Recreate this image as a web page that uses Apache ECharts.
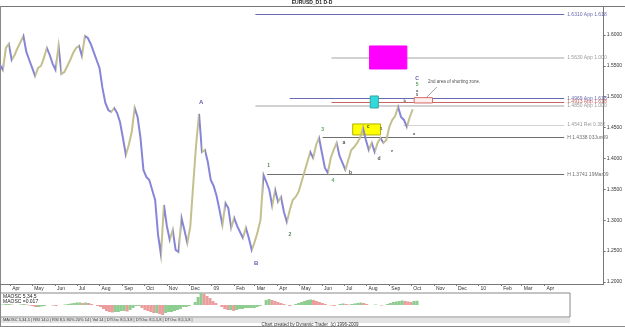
<!DOCTYPE html>
<html>
<head>
<meta charset="utf-8">
<script src="https://cdn.jsdelivr.net/npm/echarts@6/dist/echarts.min.js"></script>
<style>
  html, body { margin: 0; padding: 0; background: #fff; }
  #chart { width: 625px; height: 327px; }
</style>
</head>
<body>
<div id="chart"></div>
<script>
// sampled every 4 days from 18 Mar 2008
const startDate = [2008, 2, 18];
const stepDays = 4;
const closes = [
  1.5514, 1.5433, 1.5789, 1.5854, 1.5595, 1.5676, 1.5789, 1.5887, 1.5984, 1.5725,
  1.5595, 1.5466, 1.5336, 1.5466, 1.5498, 1.5628, 1.5789, 1.5676, 1.5530, 1.5433,
  1.5822, 1.5368, 1.5401, 1.5498, 1.5595, 1.5709, 1.5789, 1.5822, 1.5660, 1.5984,
  1.5951, 1.5854, 1.5725, 1.5595, 1.5466, 1.5142, 1.4899, 1.4785, 1.4753, 1.4818,
  1.4737, 1.4591, 1.4332, 1.4057, 1.4219, 1.4429, 1.4818, 1.4672, 1.4332, 1.3814,
  1.3700, 1.3652, 1.3490, 1.3328, 1.2761, 1.2437, 1.3247, 1.2907, 1.2680, 1.2842,
  1.2518, 1.2486, 1.3037, 1.2842, 1.2632, 1.2891, 1.3571, 1.4219, 1.4721, 1.4105,
  1.4138, 1.3943, 1.3652, 1.3555, 1.3393, 1.3166, 1.2923, 1.3279, 1.3198, 1.2875,
  1.3037, 1.2907, 1.2810, 1.2713, 1.2875, 1.2713, 1.2518, 1.2648, 1.2810, 1.3004,
  1.3733, 1.3619, 1.3490, 1.3231, 1.3490, 1.3296, 1.3377, 1.3134, 1.2972, 1.3166,
  1.3328, 1.3377, 1.3458, 1.3619, 1.3781, 1.3943, 1.4105, 1.4008, 1.4219, 1.4332,
  1.4089, 1.3846, 1.3765, 1.4008, 1.4138, 1.4251, 1.4041, 1.3927, 1.3814, 1.3976,
  1.4138, 1.4186, 1.4251, 1.4332, 1.4494, 1.4300, 1.4138, 1.4251, 1.4105, 1.4251,
  1.4332, 1.4251, 1.4300, 1.4510, 1.4624, 1.4688, 1.4834, 1.4672, 1.4624, 1.4510,
  1.4672, 1.4794
];
const maosc = [
  0, 0.002, 0.004, 0.004, 0.002, 0, 0, 0.002, 0.004, 0.002,
  -0.002, -0.004, -0.008, -0.008, -0.006, -0.004, 0, 0, -0.002, -0.004,
  0, 0, 0.002, 0.004, 0.006, 0.008, 0.010, 0.010, 0.008, 0.010,
  0.008, 0.004, 0, -0.004, -0.008, -0.016, -0.024, -0.028, -0.030, -0.028,
  -0.028, -0.024, -0.024, -0.026, -0.020, -0.012, -0.004, -0.004, -0.012, -0.020,
  -0.024, -0.028, -0.032, -0.032, -0.036, -0.040, -0.032, -0.028, -0.028, -0.024,
  -0.020, -0.016, -0.008, -0.008, -0.004, 0, 0.012, 0.032, 0.048, 0.044,
  0.036, 0.028, 0.016, 0.008, 0, -0.008, -0.016, -0.020, -0.020, -0.024,
  -0.020, -0.016, -0.016, -0.012, -0.012, -0.012, -0.012, -0.008, -0.004, 0,
  0.020, 0.024, 0.020, 0.016, 0.012, 0.008, 0.004, 0, -0.004, 0,
  0.004, 0.008, 0.012, 0.016, 0.020, 0.022, 0.020, 0.016, 0.012, 0.008,
  0.004, 0, -0.002, -0.004, 0, 0.004, 0.006, 0.004, 0.002, 0.004,
  0.006, 0.008, 0.010, 0.008, 0.004, 0, 0, 0.002, 0, -0.002,
  0, 0.004, 0.008, 0.012, 0.014, 0.016, 0.018, 0.016, 0.014, 0.012,
  0.016, 0.017
];
const monthTicks = [
  '2008-04-01', '2008-05-01', '2008-06-01', '2008-07-01', '2008-08-01', '2008-09-01',
  '2008-10-01', '2008-11-01', '2008-12-01', '2009-01-01', '2009-02-01', '2009-03-01',
  '2009-04-01', '2009-05-01', '2009-06-01', '2009-07-01', '2009-08-01', '2009-09-01',
  '2009-10-01', '2009-11-01', '2009-12-01', '2010-01-01', '2010-02-01', '2010-03-01',
  '2010-04-01'
];
const monthNames = ['Jan', 'Feb', 'Mar', 'Apr', 'May', 'Jun', 'Jul', 'Aug', 'Sep', 'Oct', 'Nov', 'Dec'];
const yTicks = [1.20, 1.25, 1.30, 1.35, 1.40, 1.45, 1.50, 1.55, 1.60];
const lastPrice = 1.4794;

// [label, price, from, to, colour, width]
const levels = [
  ['1.6310 App 1.618', 1.6335, '2009-03-02', '2010-04-28', '#6a6ab4', 1],
  ['1.5630 App 1.000', 1.5630, '2009-06-14', '2010-04-28', '#d2d2d2', 2],
  ['1.4969 App 1.618', 1.4972, '2009-04-18', '2010-04-28', '#6a6ab4', 1],
  ['1.4913 App 1.618', 1.4915, '2009-06-14', '2010-04-28', '#c86464', 1],
  ['1.4850 App 1.000', 1.4850, '2009-03-02', '2010-04-28', '#d2d2d2', 2],
  ['1.4541 Ret 0.382', 1.4541, '2009-09-20', '2010-04-28', '#d2d2d2', 1],
  ['H 1.4338 03Jun09', 1.4338, '2009-06-02', '2010-04-28', '#6e6e6e', 1],
  ['H 1.3741 19Mar09', 1.3741, '2009-03-18', '2010-04-28', '#6e6e6e', 1]
];
// [from, top, to, bottom, fill, border]
const zones = [
  ['2009-08-05', 1.5822, '2009-09-25', 1.5449, '#ff00ff', '#ff00ff'],
  ['2009-08-06', 1.5012, '2009-08-17', 1.4818, '#33dada', '#2aa8a8'],
  ['2009-07-13', 1.4559, '2009-08-20', 1.4381, '#ffff00', '#b0b000'],
  ['2009-10-05', 1.4985, '2009-10-30', 1.4899, '#fff0f0', '#d46a6a']
];
// [text, date, price, colour, size]
const waves = [
  ['A', '2008-12-18', 1.4915, '#33339a', 6],
  ['B', '2009-03-03', 1.2308, '#33339a', 6],
  ['1', '2009-03-20', 1.3879, '#2f5a2f', 5],
  ['2', '2009-04-18', 1.2761, '#2f5a2f', 5],
  ['3', '2009-06-02', 1.4462, '#2f8a2f', 5],
  ['4', '2009-06-16', 1.3636, '#2f8a2f', 5],
  ['a', '2009-07-01', 1.4251, '#222', 5],
  ['b', '2009-07-10', 1.3765, '#222', 5],
  ['c', '2009-08-03', 1.4510, '#222', 5],
  ['1', '2009-08-21', 1.4478, '#222', 4],
  ['d', '2009-08-18', 1.3992, '#222', 5],
  ['e', '2009-09-05', 1.4122, '#222', 4],
  ['b', '2009-09-22', 1.4931, '#222', 4],
  ['a', '2009-10-05', 1.4397, '#222', 4],
  ['C', '2009-10-09', 1.5287, '#33339a', 5],
  ['5', '2009-10-09', 1.5190, '#2f8a2f', 5],
  ['a', '2009-10-09', 1.5100, '#222', 4],
  ['5', '2009-10-09', 1.5030, '#222', 4]
];
const note = ['2nd area of shorting zone.', '2009-10-24', 1.5239];
const pointer = [['2009-10-17', 1.4931], ['2009-11-05', 1.5158]];

const toTime = s => { const p = s.split('-').map(Number); return new Date(p[0], p[1] - 1, p[2]).getTime(); };
const dates = closes.map((c, i) => new Date(startDate[0], startDate[1], startDate[2] + i * stepDays).getTime());
const xMin = new Date(startDate[0], startDate[1], startDate[2]).getTime();
const xMaxPrice = toTime('2010-06-21');
const xMaxOsc = toTime('2010-04-28');
const tickTimes = monthTicks.map(toTime);
const font = 'Liberation Sans, Arial, sans-serif';
const upColor = '#c4bf8c';
const downColor = '#8686d8';
const monthLabel = v => {
  const d = new Date(v);
  return d.getMonth() === 0 ? String(d.getFullYear()).slice(2) : monthNames[d.getMonth()];
};

// colour each leg of the price line by its direction
const pricePieces = closes.slice(1).map((c, i) => ({
  gte: dates[i], lte: dates[i + 1], color: c >= closes[i] ? upColor : downColor
}));

const chart = echarts.init(document.getElementById('chart'));

const levelLines = levels.map(l => [
  {
    coord: [toTime(l[2]), l[1]],
    lineStyle: { color: l[4], width: l[5], type: 'solid' },
    label: { show: true, position: 'end', formatter: l[0], color: l[4] === '#d2d2d2' ? '#999' : l[4], fontSize: 5, fontFamily: font, distance: 3 }
  },
  { coord: [toTime(l[3]), l[1]] }
]);
levelLines.push([
  { coord: [xMin, lastPrice], lineStyle: { opacity: 0 },
    label: { show: true, position: 'end', formatter: lastPrice.toFixed(4), backgroundColor: '#ffff66', color: '#222', fontSize: 5, padding: [1, 2], distance: 1 } },
  { coord: [xMaxPrice, lastPrice] }
]);

const option = {
  animation: false,
  backgroundColor: '#fff',
  textStyle: { fontFamily: font },
  grid: [
    { left: 0, top: 7, width: 610, height: 277 },
    { left: 0, top: 293, width: 570, height: 24, show: true, borderColor: '#888', borderWidth: 1, backgroundColor: '#fff' }
  ],
  visualMap: {
    show: false, type: 'piecewise', seriesIndex: 2, dimension: 0, pieces: pricePieces, outOfRange: { color: upColor }
  },
  xAxis: [
    {
      type: 'value', gridIndex: 0, min: xMin, max: xMaxPrice, scale: true,
      splitLine: { show: false },
      axisLine: { lineStyle: { color: '#777', width: 1 } },
      axisTick: { show: true, length: 2, lineStyle: { color: '#777' }, customValues: tickTimes },
      axisLabel: {
        customValues: tickTimes, fontSize: 5, color: '#333', align: 'left', margin: 2, padding: [0, 0, 0, 2],
        formatter: monthLabel
      }
    },
    {
      type: 'value', gridIndex: 1, min: xMin, max: xMaxOsc, scale: true,
      axisLine: { show: false }, axisTick: { show: false }, axisLabel: { show: false }, splitLine: { show: false }
    }
  ],
  yAxis: [
    {
      type: 'value', gridIndex: 0, position: 'right', min: 1.1967, max: 1.6453,
      splitLine: { show: false },
      axisLine: { show: true, lineStyle: { color: '#777' } },
      axisTick: { show: true, length: 2, customValues: yTicks, lineStyle: { color: '#777' } },
      axisLabel: { customValues: yTicks, fontSize: 5, color: '#333', margin: 3, formatter: v => v.toFixed(4) }
    },
    {
      type: 'value', gridIndex: 1, min: -0.048, max: 0.048,
      axisLine: { show: false }, axisTick: { show: false }, axisLabel: { show: false }, splitLine: { show: false }
    }
  ],
  series: [
    {
      // level lines and the pointer of the note
      type: 'line', xAxisIndex: 0, yAxisIndex: 0, data: [], z: 1,
      markLine: { silent: true, z: 1, symbol: ['none', 'none'], animation: false, data: levelLines.concat([[
        { coord: [toTime(pointer[0][0]), pointer[0][1]], lineStyle: { color: '#888', width: 0.8, type: 'solid' }, label: { show: false } },
        { coord: [toTime(pointer[1][0]), pointer[1][1]] }
      ]]) }
    },
    {
      // zone boxes, above the level lines
      type: 'line', xAxisIndex: 0, yAxisIndex: 0, data: [], z: 3,
      markArea: {
        silent: true, z: 3,
        data: zones.map(z => [
          { coord: [toTime(z[0]), z[1]], itemStyle: { color: z[4], borderColor: z[5], borderWidth: 1, opacity: 1 } },
          { coord: [toTime(z[2]), z[3]] }
        ])
      }
    },
    {
      type: 'line', name: 'EURUSD', xAxisIndex: 0, yAxisIndex: 0, z: 4,
      data: closes.map((c, i) => [dates[i], c]),
      showSymbol: false, lineStyle: { width: 2, join: 'miter' }
    },
    {
      type: 'scatter', xAxisIndex: 0, yAxisIndex: 0, symbolSize: 0, z: 6,
      data: waves.map(w => ({
        value: [toTime(w[1]), w[2]],
        label: { show: true, position: 'inside', formatter: w[0], color: w[3], fontSize: w[4], fontWeight: 'bold', fontFamily: font }
      })).concat([{
        value: [toTime(note[1]), note[2]],
        label: { show: true, position: 'right', distance: 0, formatter: note[0], color: '#222', fontSize: 4.5, fontFamily: font }
      }])
    },
    {
      type: 'bar', xAxisIndex: 1, yAxisIndex: 1, barWidth: 3,
      data: maosc.map((v, i) => ({
        value: [dates[i], v],
        itemStyle: { color: (i && v < maosc[i - 1]) ? '#eb9c9c' : '#8fcc8f' }
      }))
    }
  ],
  graphic: [
    { type: 'line', shape: { x1: 0, y1: 6.5, x2: 625, y2: 6.5 }, style: { stroke: '#777', lineWidth: 1 } },
    { type: 'line', shape: { x1: 0.5, y1: 6, x2: 0.5, y2: 327 }, style: { stroke: '#888', lineWidth: 1 } },
    { type: 'line', shape: { x1: 0, y1: 326.5, x2: 625, y2: 326.5 }, style: { stroke: '#888', lineWidth: 1 } },
    { type: 'text', x: 312, y: 0.5, style: { text: 'EURUSD_D1 D-D', font: 'bold 5px ' + font, fill: '#222', align: 'center' } },
    { type: 'rect', shape: { x: 1, y: 318, width: 569, height: 5 }, style: { fill: '#e4e4e4' } },
    { type: 'text', x: 3, y: 318, style: { text: 'MAOSC 5,34,5 | RSI 14,0 | RSI 8,5 80% 20% 14 | Vol 14 | DTOsc 8,5,3,8 | DTOsc 8,5,5,8 | DTOsc 8,5,5,8 |', font: '4px ' + font, fill: '#333' } },
    { type: 'text', x: 3, y: 294, style: { text: 'MAOSC 5,34,5', font: '5px ' + font, fill: '#222' } },
    { type: 'text', x: 3, y: 299, style: { text: 'MAOSC =0.017', font: '5px ' + font, fill: '#222' } },
    { type: 'text', x: 310, y: 322, style: { text: 'Chart created by Dynamic Trader  (c) 1996-2009', font: '4.5px ' + font, fill: '#333', align: 'center' } }
  ]
};
chart.setOption(option);
</script>
</body>
</html>
